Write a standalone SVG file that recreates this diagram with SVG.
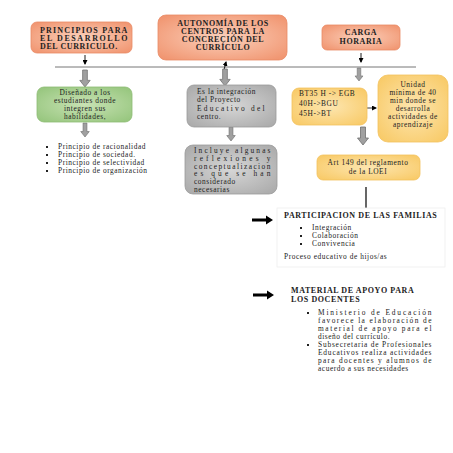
<svg xmlns="http://www.w3.org/2000/svg" width="453" height="453" viewBox="0 0 453 453">
<defs>
<radialGradient id="gOr" cx="50%" cy="50%" r="70%"><stop offset="0" stop-color="#fbd0bb"/><stop offset="1" stop-color="#f0916b"/></radialGradient>
<radialGradient id="gGr" cx="50%" cy="50%" r="70%"><stop offset="0" stop-color="#c8e2b4"/><stop offset="1" stop-color="#93c47a"/></radialGradient>
<radialGradient id="gGy" cx="50%" cy="50%" r="70%"><stop offset="0" stop-color="#d6d6d6"/><stop offset="1" stop-color="#a8a8a8"/></radialGradient>
<radialGradient id="gYe" cx="50%" cy="50%" r="70%"><stop offset="0" stop-color="#fde6b0"/><stop offset="1" stop-color="#f8c862"/></radialGradient>
<symbol id="blk" viewBox="0 0 12 18" overflow="visible"><path d="M3.5,0 H8.5 V11 H11.5 L6,18 L0.5,11 H3.5 Z" fill="#a0a0a0" stroke="#6f6f6f" stroke-width="0.8"/></symbol>
<marker id="ah" markerWidth="5" markerHeight="5" refX="4" refY="2.5" orient="auto" markerUnits="userSpaceOnUse"><path d="M0,0 L5,2.5 L0,5 Z" fill="#000"/></marker>
<marker id="ahs" markerWidth="5" markerHeight="5" refX="1" refY="2.5" orient="auto" markerUnits="userSpaceOnUse"><path d="M5,0 L0,2.5 L5,5 Z" fill="#000"/></marker>
</defs>
<style>
text{font-family:"Liberation Serif","Times New Roman",serif;font-size:7.4px;letter-spacing:0.55px;fill:#222}
.b{font-weight:bold;font-size:8px;letter-spacing:0.6px}
.c{text-anchor:middle}
.or{fill:url(#gOr);stroke:#e88a66;stroke-width:0.8}
.gr{fill:url(#gGr);stroke:#8dbb73;stroke-width:0.8}
.gy{fill:url(#gGy);stroke:#9a9a9a;stroke-width:0.8}
.ye{fill:url(#gYe);stroke:#f2c25e;stroke-width:0.8}
</style>
<rect width="453" height="453" fill="#fff"/>

<g id="connectors">
<line x1="55" y1="67" x2="416" y2="67" stroke="#777" stroke-width="1"/>
<line x1="85" y1="55" x2="85" y2="64" stroke="#000" stroke-width="0.9" marker-end="url(#ah)"/>
<line x1="226" y1="62" x2="224" y2="70" stroke="#000" stroke-width="0.9" marker-start="url(#ahs)"/>
<line x1="361" y1="53" x2="361" y2="62" stroke="#000" stroke-width="0.9" marker-end="url(#ah)"/>
<use href="#blk" x="79" y="70" width="12" height="17"/>
<use href="#blk" x="219" y="69" width="12" height="17"/>
<use href="#blk" x="353" y="68" width="12" height="13"/>
<use href="#blk" x="79" y="123" width="12" height="14"/>
<use href="#blk" x="225" y="127" width="12" height="14"/>
<use href="#blk" x="357" y="127" width="12" height="18"/>
<line x1="363" y1="108" x2="376" y2="108" stroke="#000" stroke-width="0.8" marker-start="url(#ahs)" marker-end="url(#ah)"/>
<line x1="366" y1="187" x2="366" y2="208" stroke="#000" stroke-width="1.2"/>
<path d="M252,218.5 H266 V215.5 L273,220 L266,224.5 V221.5 H252 Z" fill="#000"/>
<path d="M253,293.5 H267 V290.5 L274,295 L267,299.5 V296.5 H253 Z" fill="#000"/>
</g>

<g id="principios">
<rect class="or" x="31" y="22" width="101" height="31" rx="6"/>
<text class="b" x="40" y="33" textLength="88" lengthAdjust="spacing">PRINCIPIOS PARA</text>
<text class="b" x="40" y="41" textLength="88" lengthAdjust="spacing">EL DESARROLLO</text>
<text class="b" x="40" y="49">DEL CURRICULO.</text>
</g>

<g id="autonomia">
<rect class="or" x="158" y="15" width="129" height="45" rx="8"/>
<text class="b c" x="223" y="26">AUTONOMÍA DE LOS</text>
<text class="b c" x="223" y="34">CENTROS PARA LA</text>
<text class="b c" x="223" y="42">CONCRECIÓN DEL</text>
<text class="b c" x="223" y="50">CURRÍCULO</text>
</g>

<g id="carga">
<rect class="or" x="322" y="25" width="78" height="25" rx="5"/>
<text class="b c" x="361" y="35">CARGA</text>
<text class="b c" x="361" y="44">HORARIA</text>
</g>

<g id="disenado">
<rect class="gr" x="37" y="87" width="95" height="35" rx="7"/>
<text class="c" x="85" y="95">Diseñado a los</text>
<text class="c" x="85" y="103">estudiantes donde</text>
<text class="c" x="85" y="111">integren sus</text>
<text class="c" x="85" y="119">habilidades,</text>
</g>

<g id="principios-lista">
<g fill="#222"><rect x="46" y="146" width="2" height="2"/><rect x="46" y="154" width="2" height="2"/><rect x="46" y="162" width="2" height="2"/><rect x="46" y="170" width="2" height="2"/></g>
<text x="58" y="149">Principio  de racionalidad</text>
<text x="58" y="157">Principio  de sociedad.</text>
<text x="58" y="165">Principio  de selectividad</text>
<text x="58" y="173">Principio  de organización</text>
</g>

<g id="integracion">
<rect class="gy" x="187" y="85" width="89" height="42" rx="7"/>
<text x="197" y="94">Es la integración</text>
<text x="197" y="102">del Proyecto</text>
<text x="197" y="111" textLength="68" lengthAdjust="spacing">Educativo del</text>
<text x="197" y="119">centro.</text>
</g>

<g id="incluye">
<rect class="gy" x="185" y="145" width="92" height="49" rx="8"/>
<text x="194" y="153" textLength="77" lengthAdjust="spacing">Incluye algunas</text>
<text x="194" y="160.8" textLength="77" lengthAdjust="spacing">reflexiones y</text>
<text x="194" y="168.6" textLength="77" lengthAdjust="spacing">conceptualizacion</text>
<text x="194" y="176.4" textLength="77" lengthAdjust="spacing">es que se han</text>
<text x="194" y="184.2">considerado</text>
<text x="194" y="192">necesarias</text>
</g>

<g id="horas">
<rect class="ye" x="292" y="88" width="75" height="37" rx="7"/>
<text x="299" y="96">BT35 H -&gt; EGB</text>
<text x="299" y="106">40H-&gt;BGU</text>
<text x="299" y="116">45H-&gt;BT</text>
</g>

<g id="unidad">
<rect class="ye" x="378" y="75" width="70" height="67" rx="10"/>
<text class="c" x="413" y="87">Unidad</text>
<text class="c" x="413" y="95">mínima de 40</text>
<text class="c" x="413" y="103">min donde se</text>
<text class="c" x="413" y="111">desarrolla</text>
<text class="c" x="413" y="119">actividades de</text>
<text class="c" x="413" y="127">aprendizaje</text>
</g>

<g id="art149">
<rect class="ye" x="317" y="155" width="103" height="25" rx="6"/>
<text class="c" x="368" y="165">Art 149 del reglamento</text>
<text class="c" x="368" y="174">de la LOEI</text>
</g>

<g id="participacion">
<rect x="277" y="208" width="168" height="59" fill="#fff" stroke="#eee" stroke-width="0.8"/>
<text class="b" x="284" y="218">PARTICIPACION  DE LAS FAMILIAS</text>
<g fill="#222"><rect x="300" y="227" width="2" height="2"/><rect x="300" y="235" width="2" height="2"/><rect x="300" y="243" width="2" height="2"/></g>
<text x="312" y="230">Integración</text>
<text x="312" y="238">Colaboración</text>
<text x="312" y="246">Convivencia</text>
<text x="284" y="259">Proceso educativo  de hijos/as</text>
</g>

<g id="material">
<text class="b" x="291" y="293">MATERIAL DE APOYO PARA</text>
<text class="b" x="291" y="302">LOS DOCENTES</text>
<g fill="#222"><rect x="307" y="312" width="2" height="2"/><rect x="307" y="344" width="2" height="2"/></g>
<text x="318" y="315" textLength="114" lengthAdjust="spacing">Ministerio de Educación</text>
<text x="318" y="323" textLength="114" lengthAdjust="spacing">favorece la elaboración de</text>
<text x="318" y="331" textLength="114" lengthAdjust="spacing">material de apoyo para el</text>
<text x="318" y="339">diseño del currículo.</text>
<text x="318" y="347" textLength="114" lengthAdjust="spacing">Subsecretaria de Profesionales</text>
<text x="318" y="355" textLength="114" lengthAdjust="spacing">Educativos realiza actividades</text>
<text x="318" y="363" textLength="114" lengthAdjust="spacing">para docentes y alumnos de</text>
<text x="318" y="371">acuerdo a sus necesidades</text>
</g>
</svg>
